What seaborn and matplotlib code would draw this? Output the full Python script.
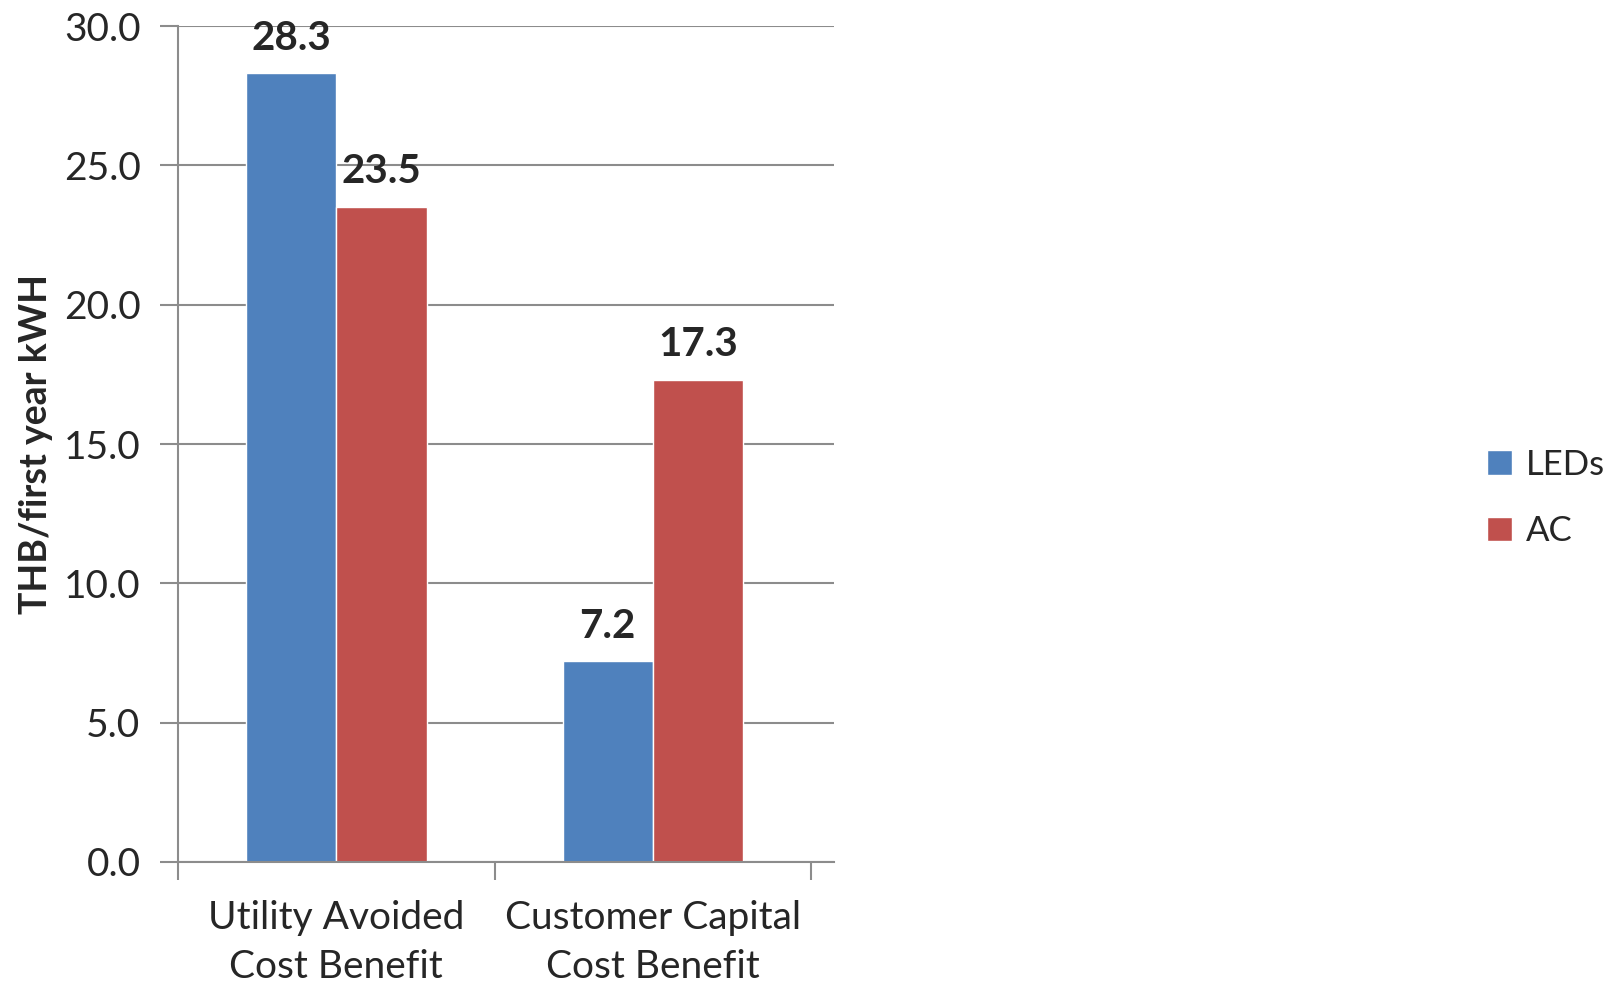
import matplotlib
matplotlib.use("Agg")
import matplotlib.pyplot as plt
import seaborn as sns
import pandas as pd

categories = ["Utility Avoided\nCost Benefit", "Customer Capital\nCost Benefit"]
series_names = ["LEDs", "AC"]
leds = [28.3, 7.2]
ac = [23.5, 17.3]
colors = ["#4F81BD", "#C0504D"]

df = pd.DataFrame({
    "cat": categories * 2,
    "series": [series_names[0]] * 2 + [series_names[1]] * 2,
    "val": leds + ac,
})

sns.set_theme(style="white")
plt.rcParams['font.family'] = ['Lato', 'DejaVu Sans']

fig = plt.figure(figsize=(16.18, 9.88), dpi=100)
ax = fig.add_axes([178/1618, 1 - 862/988, (834-178)/1618, (862-26)/988])

sns.barplot(data=df, x="cat", y="val", hue="series", palette=colors,
            width=0.57, ax=ax, saturation=1, dodge=True, legend=True)

for cont in ax.containers:
    ax.bar_label(cont, fmt="%.1f", fontsize=29, fontweight="bold", padding=12)

ax.set_ylim(0, 30)
ax.set_xlim(-0.5, 1.572)
ax.set_yticks([0, 5, 10, 15, 20, 25, 30])
ax.set_yticklabels([f"{v:.1f}" for v in [0, 5, 10, 15, 20, 25, 30]], fontsize=28)
ax.yaxis.grid(True, color="#8c8c8c", linewidth=1.5)
ax.set_axisbelow(True)

ax.set_xticks([-0.5, 0.5, 1.5])
ax.set_xticklabels(["", "", ""])
ax.set_xticks([0, 1], minor=True)
ax.set_xticklabels(categories, minor=True, fontsize=28, linespacing=1.45)
ax.tick_params(axis="x", which="minor", length=0, pad=27)
ax.tick_params(axis="x", which="major", length=13, width=1.5, color="#8c8c8c", direction="out", bottom=True)
ax.tick_params(axis="y", which="major", length=13, width=1.5, color="#8c8c8c", direction="out", left=True, pad=14)

for s in ["top", "right"]:
    ax.spines[s].set_visible(False)
for s in ["left", "bottom"]:
    ax.spines[s].set_color("#8c8c8c")
    ax.spines[s].set_linewidth(1.5)

ax.set_xlabel("")
ax.set_ylabel("THB/first year kWH", fontsize=27, fontweight="bold", labelpad=8)

leg = ax.legend(title=None, loc="center left", bbox_to_anchor=(1456/1618, 490/988),
                bbox_transform=fig.transFigure, frameon=False, fontsize=25,
                handlelength=0.7, handleheight=0.7, handletextpad=0.4, labelspacing=1.0)

fig.savefig("out.png", dpi=100)
